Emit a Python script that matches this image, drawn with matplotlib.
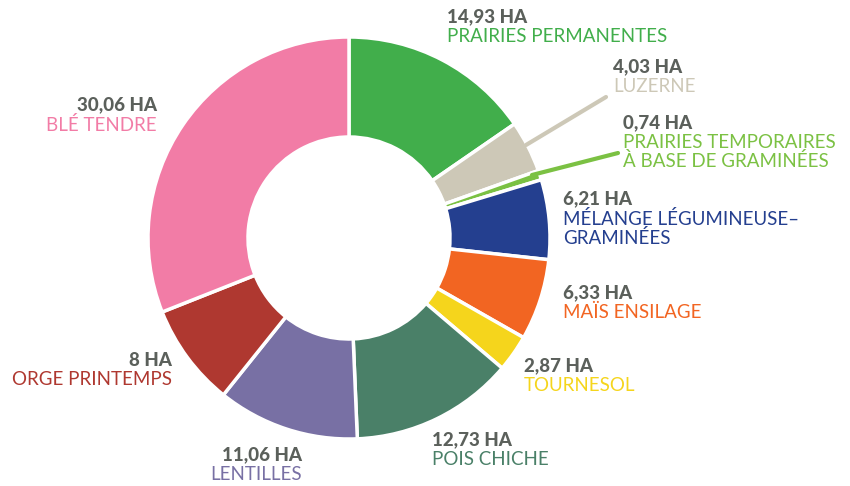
import matplotlib.pyplot as plt

labels = ["PRAIRIES PERMANENTES", "LUZERNE", "PRAIRIES TEMPORAIRES\nÀ BASE DE GRAMINÉES",
          "MÉLANGE LÉGUMINEUSE–\nGRAMINÉES", "MAÏS ENSILAGE", "TOURNESOL", "POIS CHICHE",
          "LENTILLES", "ORGE PRINTEMPS", "BLÉ TENDRE"]
values = [14.93, 4.03, 0.74, 6.21, 6.33, 2.87, 12.73, 11.06, 8, 30.06]
value_labels = ["14,93 HA", "4,03 HA", "0,74 HA", "6,21 HA", "6,33 HA", "2,87 HA",
                "12,73 HA", "11,06 HA", "8 HA", "30,06 HA"]
colors = ["#41ae4b", "#cdc8b7", "#7bc143", "#243f8f", "#f26522", "#f5d51c",
          "#4a8068", "#7870a4", "#af3830", "#f27ca6"]

H = 486
# text anchor (x, y of value line in image px, alignment)
label_pos = [(447, 17, "left"), (613, 67, "left"), (623, 123, "left"), (563, 199, "left"),
             (563, 293, "left"), (524, 366, "left"), (432, 440, "left"),
             (302, 455, "right"), (172, 360, "right"), (157, 105, "right")]

plt.rcParams["font.family"] = ["Lato", "DejaVu Sans"]
fig = plt.figure(figsize=(8.5, 4.86), dpi=100)
ax = fig.add_axes([0, 0, 1, 1])

ax.pie(values, colors=colors, startangle=90, counterclock=False,
       center=(349, H - 238), radius=201,
       wedgeprops=dict(width=100, edgecolor="white", linewidth=2.5))

ax.set_xlim(0, 850)
ax.set_ylim(0, H)
ax.set_aspect("equal")
ax.axis("off")

# leader lines for the small slices
ax.plot([526, 606], [H - 145, H - 97], color=colors[1], lw=3, solid_capstyle="round")
ax.plot([532, 618], [H - 175, H - 153], color=colors[2], lw=3, solid_capstyle="round")

for (x, y, ha), val, lab, c in zip(label_pos, value_labels, labels, colors):
    ax.text(x, H - y, val, ha=ha, va="center", fontsize=13.5, fontweight="black",
            color="#5b605b")
    ax.text(x, H - y - 11, lab, ha=ha, va="top", fontsize=13.5, color=c,
            linespacing=1.05)

fig.savefig("out.png", dpi=100)
